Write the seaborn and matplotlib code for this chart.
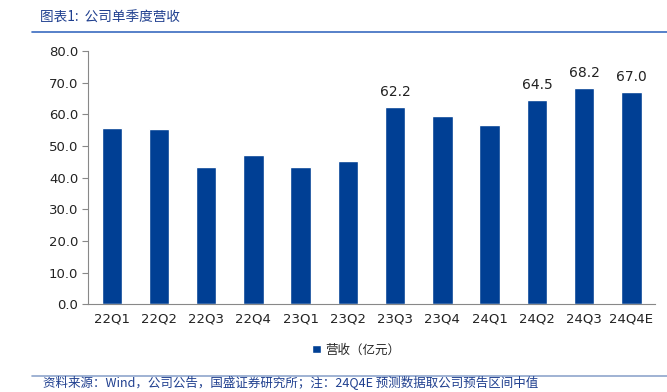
import matplotlib
matplotlib.use("Agg")
import matplotlib.pyplot as plt
import seaborn as sns
import pandas as pd
import numpy as np

quarters = ["22Q1", "22Q2", "22Q3", "22Q4", "23Q1", "23Q2", "23Q3", "23Q4",
            "24Q1", "24Q2", "24Q3", "24Q4E"]
revenue = [55.6, 55.5, 43.3, 47.1, 43.5, 45.4, 62.2, 59.6, 56.7, 64.5, 68.2, 67.0]
labeled = ["23Q3", "24Q2", "24Q3", "24Q4E"]
series_name = "营收（亿元）"
y_ticks = [0, 10, 20, 30, 40, 50, 60, 70, 80]

sns.set_theme(style="white")
plt.rcParams["font.family"] = ["DejaVu Sans", "Noto Sans CJK SC"]

df = pd.DataFrame({"quarter": quarters, "value": revenue, "series": series_name})

fig = plt.figure(figsize=(6.67, 3.92), dpi=100)
ax = fig.add_axes([0.132, 0.2237, 0.850, 0.6463])

bar_color = "#003F94"
sns.barplot(data=df, x="quarter", y="value", hue="series", palette=[bar_color],
            width=0.43, ax=ax, legend=True, saturation=1)

ax.set_ylim(0, 80)
ax.set_xlim(-0.5, len(quarters) - 0.5)
ax.set_yticks(y_ticks)
ax.set_yticklabels([f"{v:.1f}" for v in y_ticks], fontsize=9.5, color="#222222")
ax.set_xticks(range(len(quarters)))
ax.set_xticklabels(quarters, fontsize=9.5, color="#222222")
ax.set_xlabel("")
ax.set_ylabel("")

ax.set_xticks(np.arange(-0.5, len(quarters), 1.0), minor=True)
ax.tick_params(axis="x", which="major", length=0, pad=6)
ax.tick_params(axis="x", which="minor", length=4, width=0.8, color="#888888", direction="out")
ax.tick_params(axis="y", which="major", length=4, width=0.8, color="#888888", direction="out", left=True, pad=3)

for s in ["top", "right"]:
    ax.spines[s].set_visible(False)
for s in ["left", "bottom"]:
    ax.spines[s].set_color("#888888")
    ax.spines[s].set_linewidth(0.8)

for i, (q, v) in enumerate(zip(quarters, revenue)):
    if q in labeled:
        ax.text(i, v + 2.5, f"{v:.1f}", ha="center", va="bottom", fontsize=10, color="#222222")

leg = ax.legend(loc="center", bbox_to_anchor=(0.473, -0.18), frameon=False,
                prop={"family": ["Noto Sans CJK SC"], "size": 9},
                handlelength=0.7, handleheight=0.7, handletextpad=0.3)

title_color = "#1F3F8F"
fig.text(0.06, 0.955, "图表1:  公司单季度营收", fontsize=9.8, color=title_color,
         style="italic", family=["Noto Sans CJK SC", "DejaVu Sans"], va="center")
fig.add_artist(plt.Line2D([0.048, 1.0], [0.918, 0.918], color="#3A6BC0", linewidth=1.2))
fig.add_artist(plt.Line2D([0.048, 1.0], [0.042, 0.042], color="#8FA6CC", linewidth=1.2))
fig.text(0.064, 0.022, "资料来源：Wind，公司公告，国盛证券研究所；注：24Q4E 预测数据取公司预告区间中值",
         fontsize=9, color=title_color, style="italic",
         family=["Noto Sans CJK SC", "DejaVu Sans"], va="center")

fig.savefig("out.png", dpi=100)
